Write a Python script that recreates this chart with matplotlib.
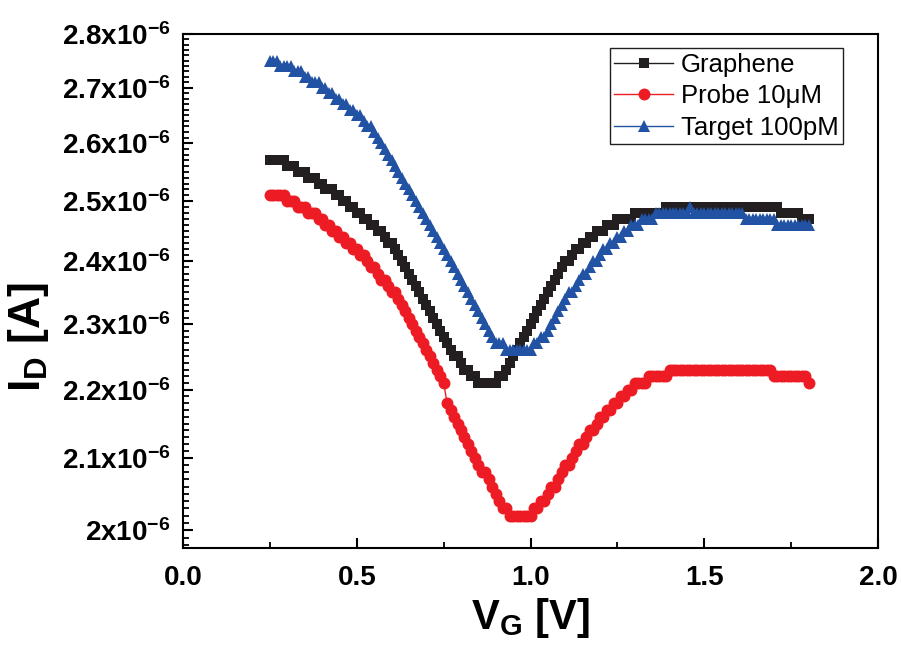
import numpy as np
import matplotlib
matplotlib.use('Agg')
import matplotlib.pyplot as plt
from matplotlib.ticker import FixedFormatter, FixedLocator, NullFormatter

plt.rcParams['font.family'] = ['Liberation Sans', 'DejaVu Sans']
plt.rcParams['mathtext.fontset'] = 'custom'
plt.rcParams['mathtext.rm'] = 'Liberation Sans:bold'
plt.rcParams['mathtext.it'] = 'Liberation Sans:bold'
plt.rcParams['mathtext.bf'] = 'Liberation Sans:bold'

# gate voltage sweep [V]
vg = np.round(np.arange(0.25, 1.805, 0.01), 2)

# drain current, units of 1e-6 A
graphene = [
    2.57, 2.57, 2.57, 2.57, 2.57, 2.56, 2.56, 2.56, 2.55, 2.55,
    2.55, 2.54, 2.54, 2.54, 2.53, 2.53, 2.52, 2.52, 2.52, 2.51,
    2.51, 2.50, 2.50, 2.49, 2.49, 2.48, 2.48, 2.47, 2.47, 2.46,
    2.46, 2.45, 2.45, 2.44, 2.43, 2.43, 2.42, 2.41, 2.40, 2.39,
    2.38, 2.37, 2.36, 2.35, 2.34, 2.33, 2.32, 2.31, 2.30, 2.29,
    2.28, 2.27, 2.26, 2.25, 2.25, 2.24, 2.23, 2.23, 2.22, 2.22,
    2.21, 2.21, 2.21, 2.21, 2.21, 2.21, 2.22, 2.22, 2.23, 2.24,
    2.25, 2.26, 2.27, 2.28, 2.29, 2.30, 2.31, 2.32, 2.33, 2.34,
    2.35, 2.36, 2.37, 2.38, 2.39, 2.40, 2.40, 2.41, 2.42, 2.42,
    2.43, 2.43, 2.44, 2.44, 2.45, 2.45, 2.45, 2.46, 2.46, 2.46,
    2.47, 2.47, 2.47, 2.47, 2.47, 2.48, 2.48, 2.48, 2.48, 2.48,
    2.48, 2.48, 2.48, 2.48, 2.49, 2.49, 2.49, 2.49, 2.49, 2.49,
    2.49, 2.49, 2.49, 2.49, 2.49, 2.49, 2.49, 2.49, 2.49, 2.49,
    2.49, 2.49, 2.49, 2.49, 2.49, 2.49, 2.49, 2.49, 2.49, 2.49,
    2.49, 2.49, 2.49, 2.49, 2.49, 2.49, 2.49, 2.48, 2.48, 2.48,
    2.48, 2.48, 2.48, 2.47, 2.47, 2.47,
]

probe = [
    2.51, 2.51, 2.51, 2.51, 2.51, 2.50, 2.50, 2.50, 2.49, 2.49,
    2.49, 2.48, 2.48, 2.48, 2.47, 2.47, 2.46, 2.46, 2.45, 2.45,
    2.44, 2.44, 2.43, 2.43, 2.42, 2.42, 2.41, 2.41, 2.40, 2.39,
    2.39, 2.38, 2.37, 2.37, 2.36, 2.35, 2.35, 2.34, 2.33, 2.32,
    2.31, 2.30, 2.29, 2.28, 2.27, 2.26, 2.25, 2.24, 2.23, 2.22,
    2.21, 2.18, 2.17, 2.16, 2.15, 2.14, 2.13, 2.12, 2.11, 2.10,
    2.09, 2.08, 2.08, 2.07, 2.06, 2.05, 2.04, 2.03, 2.03, 2.02,
    2.02, 2.02, 2.02, 2.02, 2.02, 2.02, 2.03, 2.03, 2.04, 2.04,
    2.05, 2.06, 2.06, 2.07, 2.08, 2.09, 2.09, 2.10, 2.11, 2.12,
    2.12, 2.13, 2.14, 2.14, 2.15, 2.16, 2.16, 2.17, 2.17, 2.18,
    2.18, 2.19, 2.19, 2.20, 2.20, 2.21, 2.21, 2.21, 2.21, 2.22,
    2.22, 2.22, 2.22, 2.22, 2.22, 2.23, 2.23, 2.23, 2.23, 2.23,
    2.23, 2.23, 2.23, 2.23, 2.23, 2.23, 2.23, 2.23, 2.23, 2.23,
    2.23, 2.23, 2.23, 2.23, 2.23, 2.23, 2.23, 2.23, 2.23, 2.23,
    2.23, 2.23, 2.23, 2.23, 2.23, 2.22, 2.22, 2.22, 2.22, 2.22,
    2.22, 2.22, 2.22, 2.22, 2.22, 2.21,
]

target = [
    2.75, 2.75, 2.75, 2.74, 2.74, 2.74, 2.74, 2.73, 2.73, 2.73,
    2.72, 2.72, 2.71, 2.71, 2.71, 2.70, 2.70, 2.69, 2.69, 2.68,
    2.68, 2.67, 2.67, 2.66, 2.66, 2.65, 2.65, 2.64, 2.63, 2.63,
    2.62, 2.61, 2.60, 2.59, 2.58, 2.57, 2.56, 2.55, 2.54, 2.53,
    2.52, 2.51, 2.50, 2.49, 2.48, 2.47, 2.46, 2.45, 2.44, 2.43,
    2.42, 2.41, 2.40, 2.39, 2.38, 2.37, 2.36, 2.35, 2.34, 2.33,
    2.32, 2.31, 2.30, 2.29, 2.28, 2.27, 2.27, 2.27, 2.26, 2.26,
    2.26, 2.26, 2.26, 2.26, 2.26, 2.26, 2.27, 2.27, 2.28, 2.28,
    2.29, 2.30, 2.31, 2.32, 2.33, 2.34, 2.35, 2.35, 2.36, 2.37,
    2.38, 2.38, 2.39, 2.40, 2.40, 2.41, 2.42, 2.42, 2.43, 2.43,
    2.44, 2.44, 2.45, 2.45, 2.46, 2.46, 2.46, 2.47, 2.47, 2.47,
    2.47, 2.48, 2.48, 2.48, 2.48, 2.48, 2.48, 2.48, 2.48, 2.48,
    2.48, 2.49, 2.48, 2.48, 2.48, 2.48, 2.48, 2.48, 2.48, 2.48,
    2.48, 2.48, 2.48, 2.48, 2.48, 2.48, 2.48, 2.47, 2.47, 2.47,
    2.47, 2.47, 2.47, 2.47, 2.47, 2.47, 2.46, 2.46, 2.46, 2.46,
    2.46, 2.46, 2.46, 2.46, 2.46, 2.46,
]

ytick_vals = [2.0, 2.1, 2.2, 2.3, 2.4, 2.5, 2.6, 2.7, 2.8]
ytick_labels = ['2x10$^{-6}$', '2.1x10$^{-6}$', '2.2x10$^{-6}$', '2.3x10$^{-6}$',
                '2.4x10$^{-6}$', '2.5x10$^{-6}$', '2.6x10$^{-6}$', '2.7x10$^{-6}$',
                '2.8x10$^{-6}$']
yminor_vals = [1.98, 1.99, 2.01, 2.02, 2.03, 2.04, 2.05, 2.06, 2.07, 2.08, 2.09,
               2.11, 2.12, 2.13, 2.14, 2.15, 2.16, 2.17, 2.18, 2.19,
               2.21, 2.22, 2.23, 2.24, 2.25, 2.26, 2.27, 2.28, 2.29,
               2.31, 2.32, 2.33, 2.34, 2.35, 2.36, 2.37, 2.38, 2.39,
               2.41, 2.42, 2.43, 2.44, 2.45, 2.46, 2.47, 2.48, 2.49,
               2.51, 2.52, 2.53, 2.54, 2.55, 2.56, 2.57, 2.58, 2.59,
               2.61, 2.62, 2.63, 2.64, 2.65, 2.66, 2.67, 2.68, 2.69,
               2.71, 2.72, 2.73, 2.74, 2.75, 2.76, 2.77, 2.78, 2.79]

fig = plt.figure(figsize=(9.01, 6.54), dpi=100)
ax = fig.add_axes([0.2031, 0.1621, 0.7714, 0.7859])

ax.plot(vg, np.array(graphene) * 1e-6, color='#231f20', lw=1, marker='s', ms=7.2,
        mew=0, label='Graphene')
ax.plot(vg, np.array(probe) * 1e-6, color='#ed1c24', lw=1, marker='o', ms=8.6,
        mew=0, label='Probe 10\u03bcM')
ax.plot(vg, np.array(target) * 1e-6, color='#2152a3', lw=1, marker='^', ms=9.2,
        mew=0, label='Target 100pM')

ax.set_yscale('log')
ax.set_ylim(1.976e-6, 2.8e-6)
ax.set_xlim(0, 2.0)

ax.yaxis.set_major_locator(FixedLocator([v * 1e-6 for v in ytick_vals]))
ax.yaxis.set_major_formatter(FixedFormatter(ytick_labels))
ax.yaxis.set_minor_locator(FixedLocator([v * 1e-6 for v in yminor_vals]))
ax.yaxis.set_minor_formatter(NullFormatter())
ax.set_xticks([0.0, 0.5, 1.0, 1.5, 2.0])
ax.set_xticklabels(['0.0', '0.5', '1.0', '1.5', '2.0'])
ax.set_xticks([0.25, 0.75, 1.25, 1.75], minor=True)

for s in ax.spines.values():
    s.set_linewidth(1.5)
ax.tick_params(which='both', direction='in', top=False, right=False, width=1.5)
ax.tick_params(which='major', length=7.5, labelsize=20)
ax.tick_params(which='minor', length=4.5, width=1.3)
ax.tick_params(axis='y', which='major', pad=9)
ax.tick_params(axis='x', which='major', pad=12)
for lab in ax.get_xticklabels() + ax.get_yticklabels():
    lab.set_fontweight('bold')

ax.set_xlabel('V$_{G}$ [V]', fontsize=30, fontweight='bold', labelpad=4)
ax.set_ylabel('I$_{D}$ [A]', fontsize=32, fontweight='bold')
ax.yaxis.set_label_coords(-0.19, 0.41)

leg = ax.legend(loc='upper right', bbox_to_anchor=(0.9496, 0.972), borderaxespad=0,
                fontsize=18.5, handlelength=2.3, handletextpad=0.3, labelspacing=0.3,
                borderpad=0.16, fancybox=False, framealpha=1, edgecolor='#231f20')
leg.get_frame().set_linewidth(1)

fig.savefig('out.png', dpi=100)
